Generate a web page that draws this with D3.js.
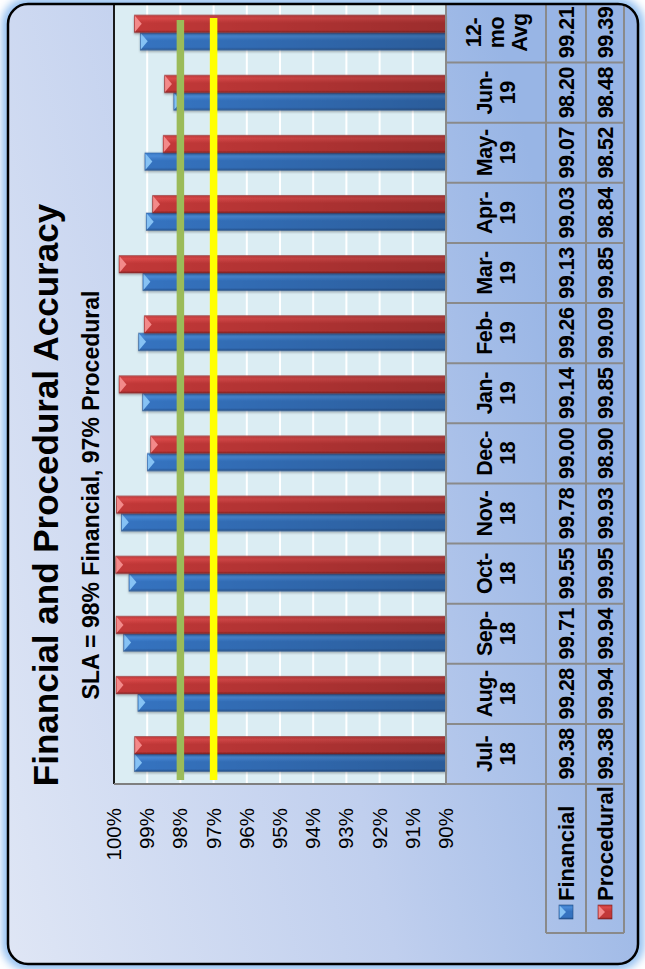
<!DOCTYPE html>
<html>
<head>
<meta charset="utf-8">
<script src="https://cdn.jsdelivr.net/npm/d3@7"></script>
<style>
  html, body { margin: 0; padding: 0; background: #ffffff; }
  svg { display: block; font-family: "Liberation Sans", Arial, sans-serif; }
</style>
</head>
<body>
<svg id="chart" width="645" height="969"></svg>
<script>
// ---- data ----
const categories = ["Jul-18", "Aug-18", "Sep-18", "Oct-18", "Nov-18", "Dec-18",
                    "Jan-19", "Feb-19", "Mar-19", "Apr-19", "May-19", "Jun-19", "12-mo Avg"];
const financial  = [99.38, 99.28, 99.71, 99.55, 99.78, 99.00, 99.14, 99.26, 99.13, 99.03, 99.07, 98.20, 99.21];
const procedural = [99.38, 99.94, 99.94, 99.95, 99.93, 98.90, 99.85, 99.09, 99.85, 98.84, 98.52, 98.48, 99.39];
const seriesNames = ["Financial", "Procedural"];
const yTicks = [90, 91, 92, 93, 94, 95, 96, 97, 98, 99, 100];
const slaFinancial = 98;
const slaProcedural = 97;
const titleText = "Financial and Procedural Accuracy";
const subtitleText = "SLA = 98% Financial, 97% Procedural";

// ---- layout (chart drawn landscape, then turned a quarter turn) ----
const W = 969, H = 645;
const frame = { x: 5, y: 8, w: 960, h: 630, r: 20 };
const plot = { left: 185, right: 966.5, top: 114, bottom: 446 };
const rowHeader = [446, 546], rowFin = [546, 586], rowProc = [586, 624];
const legendLeft = 36;

const seriesValues = { Financial: financial, Procedural: procedural };
const colors = {
  Financial:  { dark: "#23528f", mid: "#3573c0", light: "#4a8bd8", edge: "#3a78c4", cap: "#86c2f4", stroke: "#1f4a80" },
  Procedural: { dark: "#8a2323", mid: "#c23838", light: "#da4949", edge: "#c03a3a", cap: "#f38a8a", stroke: "#7a1f1f" }
};

const svg = d3.select("#chart");
const defs = svg.append("defs");

// background gradient of the chart area
const bg = defs.append("linearGradient").attr("id", "bgGrad")
  .attr("x1", 0).attr("y1", 0).attr("x2", 0.35).attr("y2", 1);
bg.append("stop").attr("offset", "0%").attr("stop-color", "#dfe6f5");
bg.append("stop").attr("offset", "55%").attr("stop-color", "#c0cfee");
bg.append("stop").attr("offset", "100%").attr("stop-color", "#98b5e5");

// bar body gradients
seriesNames.forEach(s => {
  const c = colors[s];
  const g = defs.append("linearGradient").attr("id", "bar-" + s)
    .attr("x1", 0).attr("y1", 0).attr("x2", 1).attr("y2", 0);
  [[0, c.dark], [0.14, c.mid], [0.55, c.mid], [0.82, c.light], [1, c.edge]]
    .forEach(([o, col]) => g.append("stop").attr("offset", o).attr("stop-color", col));
});
const shade = defs.append("linearGradient").attr("id", "barShade")
  .attr("x1", 0).attr("y1", 0).attr("x2", 0).attr("y2", 1);
shade.append("stop").attr("offset", "0%").attr("stop-color", "#000").attr("stop-opacity", 0);
shade.append("stop").attr("offset", "100%").attr("stop-color", "#000").attr("stop-opacity", 0.2);

const glow = defs.append("filter").attr("id", "glow")
  .attr("x", "-5%").attr("y", "-5%").attr("width", "110%").attr("height", "110%");
glow.append("feGaussianBlur").attr("stdDeviation", 4);

const shadow = defs.append("filter").attr("id", "barShadow")
  .attr("x", "-20%").attr("y", "-5%").attr("width", "140%").attr("height", "110%");
shadow.append("feDropShadow").attr("dx", -1.5).attr("dy", 0)
  .attr("stdDeviation", 1.2).attr("flood-color", "#000").attr("flood-opacity", 0.3);

defs.append("clipPath").attr("id", "frameClip").append("rect")
  .attr("x", frame.x).attr("y", frame.y).attr("width", frame.w).attr("height", frame.h)
  .attr("rx", frame.r);

// landscape chart rotated so its top faces the left of the page
const root = svg.append("g").attr("transform", `translate(0,${W}) rotate(-90)`);

// outer glow + chart area
root.append("rect")
  .attr("x", frame.x).attr("y", frame.y).attr("width", frame.w).attr("height", frame.h)
  .attr("rx", frame.r).attr("fill", "none").attr("stroke", "#8fbdf0").attr("stroke-width", 12)
  .attr("filter", "url(#glow)");
root.append("rect")
  .attr("x", frame.x).attr("y", frame.y).attr("width", frame.w).attr("height", frame.h)
  .attr("rx", frame.r).attr("fill", "url(#bgGrad)");

const inner = root.append("g").attr("clip-path", "url(#frameClip)");

// ---- scales ----
const x = d3.scaleBand().domain(categories).range([plot.left, plot.right])
  .paddingInner(0).paddingOuter(0);
const x1 = d3.scaleBand().domain(seriesNames).range([0, x.bandwidth()])
  .paddingInner(0).paddingOuter(0.72);
const y = d3.scaleLinear().domain([90, 100]).range([plot.bottom, plot.top]);

// plot background
inner.append("rect")
  .attr("x", plot.left).attr("y", plot.top)
  .attr("width", plot.right - plot.left).attr("height", plot.bottom - plot.top)
  .attr("fill", "#dbedf3");

// gridlines
inner.append("g").selectAll("line").data(yTicks.filter(t => t > 90 && t < 100)).join("line")
  .attr("x1", plot.left).attr("x2", plot.right)
  .attr("y1", d => y(d)).attr("y2", d => y(d))
  .attr("stroke", "#ffffff").attr("stroke-width", 2);

// value axis labels
const yAxis = d3.axisLeft(y).tickValues(yTicks).tickFormat(d => d + "%")
  .tickSize(0).tickPadding(24);
const axisG = inner.append("g").attr("transform", `translate(${plot.left},0)`).call(yAxis);
axisG.select(".domain").remove();
axisG.selectAll("text")
  .attr("font-family", "'Liberation Sans', Arial, sans-serif")
  .attr("font-size", 20.5).attr("fill", "#000");

// bars
const rows = categories.map((c, i) => ({ cat: c, i }));
const catG = inner.append("g").selectAll("g").data(rows).join("g")
  .attr("transform", d => `translate(${x(d.cat)},0)`);

catG.selectAll("g.bar")
  .data(d => seriesNames.map(s => ({ s, v: seriesValues[s][d.i] })))
  .join("g").attr("class", "bar")
  .each(function (d) {
    const g = d3.select(this);
    const c = colors[d.s];
    const bx = x1(d.s), bw = x1.bandwidth();
    const top = y(d.v), h = y(90) - top;
    g.append("rect").attr("x", bx).attr("y", top).attr("width", bw).attr("height", h)
      .attr("fill", `url(#bar-${d.s})`).attr("stroke", c.stroke).attr("stroke-width", 0.6)
      .attr("stroke-opacity", 0.6).attr("filter", "url(#barShadow)");
    g.append("rect").attr("x", bx).attr("y", top).attr("width", bw).attr("height", h)
      .attr("fill", "url(#barShade)");
    g.append("path")
      .attr("d", `M${bx + 0.6},${top + 0.6} L${bx + bw - 0.6},${top + 0.6} L${bx + bw / 2},${top + 7.5} Z`)
      .attr("fill", c.cap);
  });

// SLA target lines
const slaLines = [
  { v: slaFinancial, color: "#9bbb59", x0: 189, x1: 949 },
  { v: slaProcedural, color: "#ffff00", x0: 189, x1: 951 }
];
inner.append("g").selectAll("line").data(slaLines).join("line")
  .attr("x1", d => d.x0).attr("x2", d => d.x1)
  .attr("y1", d => y(d.v)).attr("y2", d => y(d.v))
  .attr("stroke", d => d.color).attr("stroke-width", 7.5);

// plot border
inner.append("line").attr("x1", plot.left).attr("x2", plot.right)
  .attr("y1", plot.top).attr("y2", plot.top).attr("stroke", "#1a1a1a").attr("stroke-width", 2);
inner.append("line").attr("x1", plot.left).attr("x2", plot.left)
  .attr("y1", plot.top).attr("y2", plot.bottom).attr("stroke", "#7f7f7f").attr("stroke-width", 2);

// ---- data table ----
const tableG = inner.append("g");
const gridColor = "#8a8a8a";
const tableFont = 21.5, tableSpacing = -0.5;
const hLines = [
  { y: rowHeader[0], x0: plot.left },
  { y: rowFin[0], x0: legendLeft },
  { y: rowProc[0], x0: legendLeft },
  { y: rowProc[1], x0: legendLeft }
];
tableG.selectAll("line.h").data(hLines).join("line").attr("class", "h")
  .attr("x1", d => d.x0).attr("x2", plot.right)
  .attr("y1", d => d.y).attr("y2", d => d.y)
  .attr("stroke", gridColor).attr("stroke-width", 2);
const vLines = categories.map(c => ({ x: x(c), y0: rowHeader[0] }))
  .concat([{ x: legendLeft, y0: rowFin[0] }, { x: plot.right, y0: rowHeader[0] }]);
tableG.selectAll("line.v").data(vLines).join("line").attr("class", "v")
  .attr("x1", d => d.x).attr("x2", d => d.x)
  .attr("y1", d => d.y0).attr("y2", rowProc[1])
  .attr("stroke", gridColor).attr("stroke-width", 2);

// category headers (wrapped after hyphens and spaces)
const headerMid = (rowHeader[0] + rowHeader[1]) / 2;
const lineH = 23;
tableG.selectAll("text.cat").data(categories).join("text").attr("class", "cat")
  .attr("x", d => x(d) + x.bandwidth() / 2)
  .attr("text-anchor", "middle").attr("font-weight", "bold").attr("font-size", tableFont)
  .attr("letter-spacing", tableSpacing).attr("fill", "#000")
  .each(function (d) {
    const parts = d.replace(/-/g, "-\n").replace(/ /g, "\n").split("\n");
    const t = d3.select(this);
    const startY = headerMid - (parts.length - 1) * lineH / 2 + 7.5;
    parts.forEach((p, k) => {
      t.append("tspan").attr("x", x(d) + x.bandwidth() / 2).attr("y", startY + k * lineH).text(p);
    });
  });

// value rows
const valueRows = [
  { s: "Financial", band: rowFin },
  { s: "Procedural", band: rowProc }
];
valueRows.forEach(r => {
  const mid = (r.band[0] + r.band[1]) / 2;
  tableG.append("g").selectAll("text").data(seriesValues[r.s]).join("text")
    .attr("x", (d, i) => x(categories[i]) + x.bandwidth() / 2)
    .attr("y", mid + 7.5)
    .attr("text-anchor", "middle").attr("font-weight", "bold").attr("font-size", tableFont)
    .attr("letter-spacing", tableSpacing).attr("fill", "#000")
    .text(d => d.toFixed(2));

  // legend key + name
  const c = colors[r.s];
  const k = 14, kx = 50, ky = mid - k / 2;
  const key = tableG.append("g");
  key.append("rect").attr("x", kx).attr("y", ky).attr("width", k).attr("height", k)
    .attr("fill", `url(#bar-${r.s})`).attr("stroke", c.stroke).attr("stroke-width", 0.6);
  key.append("path").attr("d", `M${kx + 0.6},${ky + 0.6} L${kx + k - 0.6},${ky + 0.6} L${kx + k / 2},${ky + 7} Z`)
    .attr("fill", c.cap);
  tableG.append("text").attr("x", 68).attr("y", mid + 7.5)
    .attr("font-weight", "bold").attr("font-size", 22).attr("fill", "#000")
    .text(r.s);
});

// titles
inner.append("text").attr("x", 474).attr("y", 58).attr("text-anchor", "middle")
  .attr("font-weight", "bold").attr("font-size", 35).attr("fill", "#000").text(titleText);
inner.append("text").attr("x", 474).attr("y", 99).attr("text-anchor", "middle")
  .attr("font-weight", "bold").attr("font-size", 23).attr("fill", "#000").text(subtitleText);

// frame border
root.append("rect")
  .attr("x", frame.x).attr("y", frame.y).attr("width", frame.w).attr("height", frame.h)
  .attr("rx", frame.r).attr("fill", "none").attr("stroke", "#000").attr("stroke-width", 2.5);
</script>
</body>
</html>
